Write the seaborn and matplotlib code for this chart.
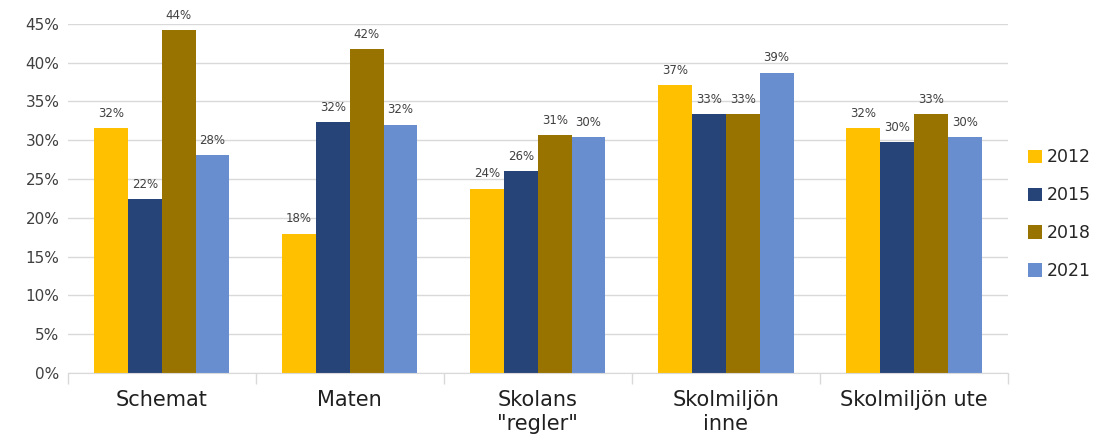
import pandas as pd
import matplotlib.pyplot as plt
import seaborn as sns
from matplotlib.ticker import PercentFormatter, FixedLocator

# Data
categories = ["Schemat", "Maten", 'Skolans\n"regler"', "Skolmiljön\ninne", "Skolmiljön ute"]
years = ["2012", "2015", "2018", "2021"]
v2012 = [0.316, 0.1795, 0.2375, 0.371, 0.316]
v2015 = [0.224, 0.323, 0.260, 0.334, 0.298]
v2018 = [0.442, 0.4175, 0.307, 0.334, 0.334]
v2021 = [0.281, 0.320, 0.304, 0.387, 0.304]
colors = ["#FFC000", "#264478", "#997300", "#698ED0"]

df = pd.DataFrame({
    "kategori": categories * 4,
    "år": [y for y in years for _ in categories],
    "andel": v2012 + v2015 + v2018 + v2021,
})

sns.set_style("white")
plt.rcParams['font.family'] = ['DejaVu Sans']

fig = plt.figure(figsize=(11.1, 4.43), dpi=100)
ax = fig.add_axes([0.061, 0.158, 0.847, 0.788])

sns.barplot(data=df, x="kategori", y="andel", hue="år", palette=colors,
            width=0.72, saturation=1, ax=ax, errorbar=None, linewidth=0)

for cont in ax.containers:
    ax.bar_label(cont, labels=[f"{v*100:.0f}%" for v in cont.datavalues],
                 padding=6, fontsize=8.5, color="#404040")

ax.set_ylim(0, 0.45)
ax.set_xlim(-0.5, 4.5)
ax.yaxis.set_major_formatter(PercentFormatter(1.0, decimals=0))
ax.set_yticks([i * 0.05 for i in range(10)])
ax.yaxis.grid(True, color="#d9d9d9", lw=1)
ax.set_axisbelow(True)
ax.tick_params(axis="y", length=0, labelsize=11, colors="#404040", pad=6)

ax.tick_params(axis="x", which="major", length=0, labelsize=15, pad=12, colors="#202020")
ax.xaxis.set_minor_locator(FixedLocator([-0.5, 0.5, 1.5, 2.5, 3.5, 4.5]))
ax.tick_params(axis="x", which="minor", bottom=True, length=8, color="#d9d9d9", width=1)
for lab in ax.get_xticklabels():
    lab.set_verticalalignment("top")
    lab.set_linespacing(1.3)

ax.set_xlabel("")
ax.set_ylabel("")
for s in ["top", "right", "left"]:
    ax.spines[s].set_visible(False)
ax.spines["bottom"].set_color("#d9d9d9")

ax.legend(title=None, frameon=False, loc="center left", bbox_to_anchor=(1.005, 0.455),
          fontsize=12.5, handlelength=0.8, handleheight=0.8, handletextpad=0.25,
          labelspacing=1.15)

fig.savefig("out.png", dpi=100)
